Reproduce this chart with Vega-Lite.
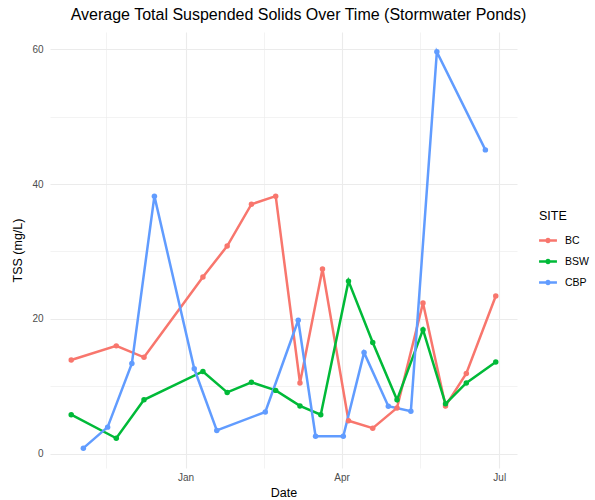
{
  "$schema": "https://vega.github.io/schema/vega-lite/v6.json",
  "width": 467,
  "height": 436,
  "autosize": {"type": "none"},
  "padding": {"left": 50, "top": 32, "right": 78, "bottom": 32},
  "background": "white",
  "title": {
    "text": "Average Total Suspended Solids Over Time (Stormwater Ponds)",
    "anchor": "middle",
    "frame": "group",
    "dx": 15,
    "offset": 9,
    "fontSize": 16,
    "font": "Liberation Sans",
    "fontWeight": "normal",
    "color": "black"
  },
  "config": {
    "view": {"stroke": null},
    "font": "Liberation Sans"
  },
  "data": {
    "values": [
      {"date": "2022-10-27", "site": "BC", "tss": 13.9},
      {"date": "2022-11-22", "site": "BC", "tss": 16.0},
      {"date": "2022-12-08", "site": "BC", "tss": 14.3},
      {"date": "2023-01-11", "site": "BC", "tss": 26.2},
      {"date": "2023-01-25", "site": "BC", "tss": 30.8},
      {"date": "2023-02-08", "site": "BC", "tss": 37.0},
      {"date": "2023-02-22", "site": "BC", "tss": 38.2},
      {"date": "2023-03-08", "site": "BC", "tss": 10.5},
      {"date": "2023-03-21", "site": "BC", "tss": 27.4},
      {"date": "2023-04-05", "site": "BC", "tss": 4.9},
      {"date": "2023-04-19", "site": "BC", "tss": 3.8},
      {"date": "2023-05-03", "site": "BC", "tss": 6.8},
      {"date": "2023-05-18", "site": "BC", "tss": 22.35},
      {"date": "2023-05-31", "site": "BC", "tss": 7.1},
      {"date": "2023-06-12", "site": "BC", "tss": 11.9},
      {"date": "2023-06-29", "site": "BC", "tss": 23.4},
      {"date": "2022-10-27", "site": "BSW", "tss": 5.8},
      {"date": "2022-11-22", "site": "BSW", "tss": 2.3},
      {"date": "2022-12-08", "site": "BSW", "tss": 8.0},
      {"date": "2023-01-11", "site": "BSW", "tss": 12.2},
      {"date": "2023-01-25", "site": "BSW", "tss": 9.1},
      {"date": "2023-02-08", "site": "BSW", "tss": 10.6},
      {"date": "2023-02-22", "site": "BSW", "tss": 9.4},
      {"date": "2023-03-08", "site": "BSW", "tss": 7.1},
      {"date": "2023-03-20", "site": "BSW", "tss": 5.8},
      {"date": "2023-04-05", "site": "BSW", "tss": 25.6},
      {"date": "2023-04-19", "site": "BSW", "tss": 16.5},
      {"date": "2023-05-03", "site": "BSW", "tss": 8.0},
      {"date": "2023-05-18", "site": "BSW", "tss": 18.4},
      {"date": "2023-05-31", "site": "BSW", "tss": 7.4},
      {"date": "2023-06-12", "site": "BSW", "tss": 10.5},
      {"date": "2023-06-29", "site": "BSW", "tss": 13.6},
      {"date": "2022-11-03", "site": "CBP", "tss": 0.83},
      {"date": "2022-11-17", "site": "CBP", "tss": 3.95},
      {"date": "2022-12-01", "site": "CBP", "tss": 13.4},
      {"date": "2022-12-14", "site": "CBP", "tss": 38.2},
      {"date": "2023-01-06", "site": "CBP", "tss": 12.6},
      {"date": "2023-01-19", "site": "CBP", "tss": 3.46},
      {"date": "2023-02-16", "site": "CBP", "tss": 6.2},
      {"date": "2023-03-07", "site": "CBP", "tss": 19.8},
      {"date": "2023-03-17", "site": "CBP", "tss": 2.6},
      {"date": "2023-04-02", "site": "CBP", "tss": 2.6},
      {"date": "2023-04-14", "site": "CBP", "tss": 15.0},
      {"date": "2023-04-28", "site": "CBP", "tss": 7.06},
      {"date": "2023-05-11", "site": "CBP", "tss": 6.3},
      {"date": "2023-05-26", "site": "CBP", "tss": 59.6},
      {"date": "2023-06-23", "site": "CBP", "tss": 45.06}
    ]
  },
  "encoding": {
    "x": {
      "field": "date",
      "type": "temporal",
      "scale": {
        "type": "utc",
        "domain": [
          {"year": 2022, "month": 10, "date": 14, "hours": 18, "utc": true},
          {"year": 2023, "month": 7, "date": 11, "hours": 6, "utc": true}
        ]
      },
      "axis": {
        "values": [
          {"year": 2022, "month": 11, "date": 16, "utc": true},
          {"year": 2023, "month": 1, "date": 1, "utc": true},
          {"year": 2023, "month": 2, "date": 15, "utc": true},
          {"year": 2023, "month": 4, "date": 1, "utc": true},
          {"year": 2023, "month": 5, "date": 16, "hours": 12, "utc": true},
          {"year": 2023, "month": 7, "date": 1, "utc": true}
        ],
        "labelExpr": "utcdate(datum.value) === 1 ? utcFormat(datum.value, '%b') : ''",
        "grid": true,
        "gridColor": "#EBEBEB",
        "gridWidth": {"condition": {"test": "utcdate(datum.value) !== 1", "value": 0.6}, "value": 1.1},
        "ticks": false,
        "domain": false,
        "labelOverlap": false,
        "labelColor": "#4D4D4D",
        "labelFontSize": 10,
        "labelPadding": 4,
        "title": "Date",
        "titleFontSize": 12.5,
        "titleFontWeight": "normal",
        "titleColor": "black",
        "titlePadding": 4
      }
    },
    "y": {
      "field": "tss",
      "type": "quantitative",
      "scale": {"domain": [-2.11, 62.54], "nice": false, "zero": false},
      "axis": {
        "values": [0, 10, 20, 30, 40, 50, 60],
        "labelExpr": "datum.value % 20 === 0 ? datum.label : ''",
        "grid": true,
        "gridColor": "#EBEBEB",
        "gridWidth": {"condition": {"test": "datum.value % 20 !== 0", "value": 0.6}, "value": 1.1},
        "ticks": false,
        "domain": false,
        "labelOverlap": false,
        "labelColor": "#4D4D4D",
        "labelFontSize": 10,
        "labelPadding": 7,
        "title": "TSS (mg/L)",
        "titleFontSize": 12.5,
        "titleFontWeight": "normal",
        "titleColor": "black",
        "titlePadding": 7
      }
    },
    "color": {
      "field": "site",
      "type": "nominal",
      "scale": {"domain": ["BC", "BSW", "CBP"], "range": ["#F8766D", "#00BA38", "#619CFF"]},
      "legend": {
        "title": "SITE",
        "orient": "none",
        "legendX": 489,
        "legendY": 178,
        "titleFontSize": 12.5,
        "titleFontWeight": "normal",
        "titleColor": "black",
        "titlePadding": 9,
        "labelFontSize": 10.5,
        "labelColor": "black",
        "labelOffset": 8,
        "symbolType": "M-1,-0.15H1V0.15H-1Z M0.3,0 A0.3,0.3 0 1,1 -0.3,0 A0.3,0.3 0 1,1 0.3,0 Z",
        "symbolSize": 320,
        "symbolStrokeWidth": 0,
        "symbolOpacity": 1,
        "rowPadding": 6,
        "encode": {
          "symbols": {"update": {"fill": {"scale": "color", "field": "value"}, "strokeWidth": {"value": 0}}}
        }
      }
    }
  },
  "layer": [
    {"mark": {"type": "line", "strokeWidth": 2.5}},
    {"mark": {"type": "point", "filled": true, "size": 30, "opacity": 1}}
  ]
}
